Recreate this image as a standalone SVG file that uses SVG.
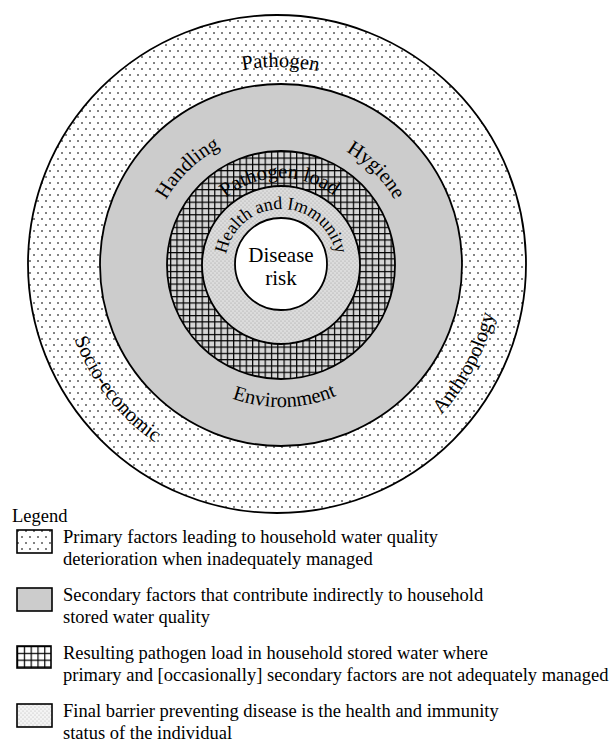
<svg xmlns="http://www.w3.org/2000/svg" width="614" height="742" viewBox="0 0 614 742">
<style>
.t{font-family:"Liberation Serif","Times New Roman",serif;fill:#000}
.lab{font-size:20.5px}
.leg{font-size:18.5px}
.ring{stroke:#000;stroke-width:1.8}
.sw{stroke:#000;stroke-width:1.6}
</style>
<defs>
<pattern id="dots" width="8" height="12" patternUnits="userSpaceOnUse">
<rect width="8" height="12" fill="#fff"/>
<rect x="1.3" y="2.3" width="1.4" height="1.4" fill="#000"/>
<rect x="5.3" y="8.3" width="1.4" height="1.4" fill="#000"/>
</pattern>
<pattern id="grid" width="6.3" height="6.3" patternUnits="userSpaceOnUse">
<rect width="6.3" height="6.3" fill="#d6d6d6"/>
<rect width="6.3" height="1.2" fill="#000"/>
<rect width="1.2" height="6.3" fill="#000"/>
</pattern>
<pattern id="fine" width="4" height="4" patternUnits="userSpaceOnUse">
<rect width="4" height="4" fill="#dcdcdc"/>
<circle cx="1" cy="1" r="0.55" fill="#999"/>
<circle cx="3" cy="3" r="0.55" fill="#999"/>
</pattern>
<pattern id="gridW" x="17" y="646" width="6.8" height="6.8" patternUnits="userSpaceOnUse">
<rect width="6.8" height="6.8" fill="#fff"/>
<rect width="6.8" height="1.2" fill="#000"/>
<rect width="1.2" height="6.8" fill="#000"/>
</pattern>
<pattern id="fineW" width="4" height="4" patternUnits="userSpaceOnUse">
<rect width="4" height="4" fill="#f4f4f4"/>
<circle cx="1" cy="1" r="0.5" fill="#aaa"/>
<circle cx="3" cy="3" r="0.5" fill="#aaa"/>
</pattern>
<path id="pPathogen" d="M108.1,162.5 A197,197 0 0 1 449.3,168.5"/>
<path id="pHandling" d="M152.9,296.9 A132,132 0 0 1 317.4,138.1"/>
<path id="pHygiene" d="M247.1,138.5 A131,131 0 0 1 407.5,298.9"/>
<path id="pEnv" d="M159.9,339.2 A142,142 0 0 0 405.8,332.8"/>
<path id="pSocio" d="M76.7,183.1 A216,216 0 0 0 307.1,477.9"/>
<path id="pAnthro" d="M285.6,486.8 A223,223 0 0 0 465.7,145.2"/>
<path id="pLoad" d="M204.9,222.8 A87,87 0 0 1 355.6,220.2"/>
<path id="pHealth" d="M232.5,293 A56,56 0 1 1 329.5,293"/>
</defs>

<g id="primary-ring">
<circle class="ring" cx="277" cy="264" r="249" fill="url(#dots)"/>
<text class="t lab"><textPath href="#pPathogen" startOffset="50%" text-anchor="middle">Pathogen</textPath></text>
<text class="t lab"><textPath href="#pSocio" startOffset="50%" text-anchor="middle">Socio-economic</textPath></text>
<text class="t lab"><textPath href="#pAnthro" startOffset="50%" text-anchor="middle">Anthropology</textPath></text>
</g>

<g id="secondary-ring">
<circle class="ring" cx="281" cy="265" r="181" fill="#cccccc"/>
<text class="t lab"><textPath href="#pHandling" startOffset="50%" text-anchor="middle">Handling</textPath></text>
<text class="t lab"><textPath href="#pHygiene" startOffset="50%" text-anchor="middle">Hygiene</textPath></text>
<text class="t lab"><textPath href="#pEnv" startOffset="50%" text-anchor="middle">Environment</textPath></text>
</g>

<g id="pathogen-load-ring">
<circle class="ring" cx="281" cy="265" r="114" fill="url(#grid)"/>
<text class="t lab"><textPath href="#pLoad" startOffset="50%" text-anchor="middle">Pathogen load</textPath></text>
</g>

<g id="health-ring">
<circle class="ring" cx="281" cy="265" r="79" fill="url(#fine)"/>
<text class="t" style="font-size:18px"><textPath href="#pHealth" startOffset="50%" text-anchor="middle">Health and Immunity</textPath></text>
</g>

<g id="disease-risk">
<circle class="ring" cx="281" cy="264" r="46" fill="#fff"/>
<text class="t" style="font-size:21px" x="281" y="262" text-anchor="middle">Disease</text>
<text class="t" style="font-size:21px" x="281" y="285" text-anchor="middle">risk</text>
</g>

<g id="legend">
<text class="t leg" x="12" y="522">Legend</text>
<g id="legend-primary">
<rect class="sw" x="17" y="530" width="35" height="23" fill="url(#dots)"/>
<text class="t leg" x="63" y="543">Primary factors leading to household water quality</text>
<text class="t leg" x="63" y="565">deterioration when inadequately managed</text>
</g>
<g id="legend-secondary">
<rect class="sw" x="17" y="588" width="35" height="23" fill="#cccccc"/>
<text class="t leg" x="63" y="601">Secondary factors that contribute indirectly to household</text>
<text class="t leg" x="63" y="623">stored water quality</text>
</g>
<g id="legend-load">
<rect class="sw" x="17" y="646" width="34" height="22" fill="url(#gridW)"/>
<text class="t leg" x="63" y="659">Resulting pathogen load in household stored water where</text>
<text class="t leg" x="63" y="681">primary and [occasionally] secondary factors are not adequately managed</text>
</g>
<g id="legend-health">
<rect class="sw" x="17" y="704" width="35" height="23" fill="url(#fineW)"/>
<text class="t leg" x="63" y="717">Final barrier preventing disease is the health and immunity</text>
<text class="t leg" x="63" y="739">status of the individual</text>
</g>
</g>
</svg>
